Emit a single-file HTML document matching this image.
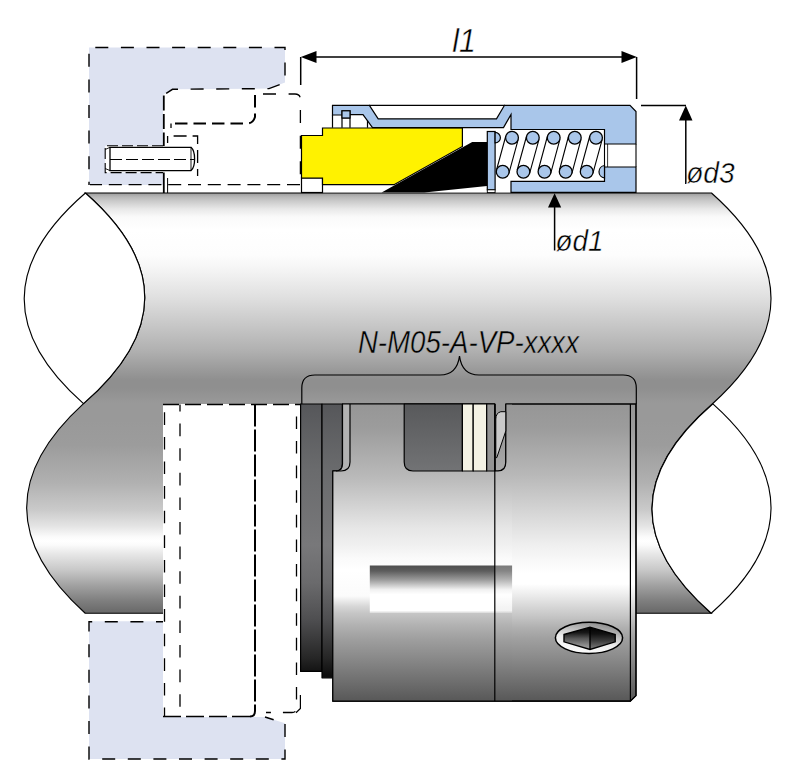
<!DOCTYPE html>
<html lang="en">
<head>
<meta charset="utf-8">
<title>N-M05-A-VP mechanical seal</title>
<style>
html,body{margin:0;padding:0;background:#fff;}
body{width:800px;height:784px;overflow:hidden;}
svg{display:block;}
text{font-family:"Liberation Sans",Arial,Helvetica,sans-serif;font-style:italic;fill:#000;}
</style>
</head>
<body>
<svg width="800" height="784" viewBox="0 0 800 784">
<defs>
  <linearGradient id="gShaft" gradientUnits="userSpaceOnUse" x1="0" y1="193" x2="0" y2="613">
    <stop offset="0.0000" stop-color="#9a9a9a"/>
    <stop offset="0.0095" stop-color="#b8b8b8"/>
    <stop offset="0.0190" stop-color="#cacaca"/>
    <stop offset="0.0381" stop-color="#e8e8e8"/>
    <stop offset="0.0571" stop-color="#fafafa"/>
    <stop offset="0.0881" stop-color="#ffffff"/>
    <stop offset="0.1476" stop-color="#fdfdfd"/>
    <stop offset="0.1833" stop-color="#f4f4f4"/>
    <stop offset="0.2476" stop-color="#e0e0e0"/>
    <stop offset="0.3119" stop-color="#c8c8c8"/>
    <stop offset="0.3762" stop-color="#b0b0b0"/>
    <stop offset="0.4214" stop-color="#9a9a9a"/>
    <stop offset="0.4452" stop-color="#8f8f8f"/>
    <stop offset="0.4643" stop-color="#8f8f8f"/>
    <stop offset="0.5000" stop-color="#999999"/>
    <stop offset="0.5405" stop-color="#999999"/>
    <stop offset="0.6000" stop-color="#9c9c9c"/>
    <stop offset="0.6881" stop-color="#b0b0b0"/>
    <stop offset="0.7548" stop-color="#cacaca"/>
    <stop offset="0.7929" stop-color="#e4e4e4"/>
    <stop offset="0.8190" stop-color="#fbfbfb"/>
    <stop offset="0.8286" stop-color="#ffffff"/>
    <stop offset="0.8381" stop-color="#fbfbfb"/>
    <stop offset="0.8583" stop-color="#e8e8e8"/>
    <stop offset="0.8976" stop-color="#c8c8c8"/>
    <stop offset="0.9357" stop-color="#a0a0a0"/>
    <stop offset="0.9690" stop-color="#808080"/>
    <stop offset="1.0000" stop-color="#686868"/>
  </linearGradient>
  <linearGradient id="gBody" gradientUnits="userSpaceOnUse" x1="0" y1="404" x2="0" y2="701">
    <stop offset="0.0000" stop-color="#969696"/>
    <stop offset="0.0808" stop-color="#9c9c9c"/>
    <stop offset="0.2391" stop-color="#b8b8b8"/>
    <stop offset="0.4175" stop-color="#e2e2e2"/>
    <stop offset="0.4747" stop-color="#efefef"/>
    <stop offset="0.5253" stop-color="#f8f8f8"/>
    <stop offset="0.5690" stop-color="#ffffff"/>
    <stop offset="0.6061" stop-color="#ffffff"/>
    <stop offset="0.6431" stop-color="#ececec"/>
    <stop offset="0.6801" stop-color="#d8d8d8"/>
    <stop offset="0.7172" stop-color="#c4c4c4"/>
    <stop offset="0.7529" stop-color="#b0b0b0"/>
    <stop offset="0.7896" stop-color="#a0a0a0"/>
    <stop offset="0.8620" stop-color="#888888"/>
    <stop offset="0.9360" stop-color="#6e6e6e"/>
    <stop offset="1.0000" stop-color="#585858"/>
  </linearGradient>
  <linearGradient id="gBodyL" gradientUnits="userSpaceOnUse" x1="0" y1="404" x2="0" y2="701">
    <stop offset="0.0000" stop-color="#969696"/>
    <stop offset="0.0808" stop-color="#9c9c9c"/>
    <stop offset="0.2492" stop-color="#bababa"/>
    <stop offset="0.4175" stop-color="#e6e6e6"/>
    <stop offset="0.4747" stop-color="#f0f0f0"/>
    <stop offset="0.5185" stop-color="#fafafa"/>
    <stop offset="0.5589" stop-color="#ffffff"/>
    <stop offset="0.6465" stop-color="#fbfbfb"/>
    <stop offset="0.6801" stop-color="#d8d8d8"/>
    <stop offset="0.7037" stop-color="#c6c6c6"/>
    <stop offset="0.7441" stop-color="#b2b2b2"/>
    <stop offset="0.7879" stop-color="#a0a0a0"/>
    <stop offset="0.8620" stop-color="#878787"/>
    <stop offset="0.9360" stop-color="#6e6e6e"/>
    <stop offset="1.0000" stop-color="#585858"/>
  </linearGradient>
  <linearGradient id="gHex" x1="0" y1="0" x2="0" y2="1">
    <stop offset="0" stop-color="#000"/>
    <stop offset="0.25" stop-color="#181818"/>
    <stop offset="0.5" stop-color="#555"/>
    <stop offset="0.8" stop-color="#8c8c8c"/>
    <stop offset="1" stop-color="#a4a4a4"/>
  </linearGradient>
  <linearGradient id="gHexR" x1="0" y1="0" x2="0" y2="1">
    <stop offset="0" stop-color="#000"/>
    <stop offset="0.3" stop-color="#111"/>
    <stop offset="0.6" stop-color="#3a3a3a"/>
    <stop offset="1" stop-color="#808080"/>
  </linearGradient>
  <linearGradient id="gScrewRing" x1="0.2" y1="1" x2="0.6" y2="0">
    <stop offset="0" stop-color="#ffffff"/>
    <stop offset="0.45" stop-color="#ececec"/>
    <stop offset="1" stop-color="#8c8c8c"/>
  </linearGradient>
  <clipPath id="cBody"><path d="M342.5,404 L494.8,404 L494.8,471 L498,471 Q505.8,471 505.8,462 L505.8,404 L636,404 L636,695.6 L630.4,701.2 L332.8,701.2 L332.8,471 L336,471 Q342.5,471 342.5,464 Z"/></clipPath>
  <linearGradient id="gShaftT1" gradientUnits="userSpaceOnUse" x1="0" y1="-57.6" x2="0" y2="362.4">
    <stop offset="0.0000" stop-color="#9a9a9a"/>
    <stop offset="0.0095" stop-color="#b8b8b8"/>
    <stop offset="0.0190" stop-color="#cacaca"/>
    <stop offset="0.0381" stop-color="#e8e8e8"/>
    <stop offset="0.0571" stop-color="#fafafa"/>
    <stop offset="0.0881" stop-color="#ffffff"/>
    <stop offset="0.1476" stop-color="#fdfdfd"/>
    <stop offset="0.1833" stop-color="#f4f4f4"/>
    <stop offset="0.2476" stop-color="#e0e0e0"/>
    <stop offset="0.3119" stop-color="#c8c8c8"/>
    <stop offset="0.3762" stop-color="#b0b0b0"/>
    <stop offset="0.4214" stop-color="#9a9a9a"/>
    <stop offset="0.4452" stop-color="#8f8f8f"/>
    <stop offset="0.4643" stop-color="#8f8f8f"/>
    <stop offset="0.5000" stop-color="#999999"/>
    <stop offset="0.5405" stop-color="#999999"/>
    <stop offset="0.6000" stop-color="#9c9c9c"/>
    <stop offset="0.6881" stop-color="#b0b0b0"/>
    <stop offset="0.7548" stop-color="#cacaca"/>
    <stop offset="0.7929" stop-color="#e4e4e4"/>
    <stop offset="0.8190" stop-color="#fbfbfb"/>
    <stop offset="0.8286" stop-color="#ffffff"/>
    <stop offset="0.8381" stop-color="#fbfbfb"/>
    <stop offset="0.8583" stop-color="#e8e8e8"/>
    <stop offset="0.8976" stop-color="#c8c8c8"/>
    <stop offset="0.9357" stop-color="#a0a0a0"/>
    <stop offset="0.9690" stop-color="#808080"/>
    <stop offset="1.0000" stop-color="#686868"/>
  </linearGradient>
  <linearGradient id="gShaftT2" gradientUnits="userSpaceOnUse" x1="0" y1="-159.6" x2="0" y2="260.4">
    <stop offset="0.0000" stop-color="#9a9a9a"/>
    <stop offset="0.0095" stop-color="#b8b8b8"/>
    <stop offset="0.0190" stop-color="#cacaca"/>
    <stop offset="0.0381" stop-color="#e8e8e8"/>
    <stop offset="0.0571" stop-color="#fafafa"/>
    <stop offset="0.0881" stop-color="#ffffff"/>
    <stop offset="0.1476" stop-color="#fdfdfd"/>
    <stop offset="0.1833" stop-color="#f4f4f4"/>
    <stop offset="0.2476" stop-color="#e0e0e0"/>
    <stop offset="0.3119" stop-color="#c8c8c8"/>
    <stop offset="0.3762" stop-color="#b0b0b0"/>
    <stop offset="0.4214" stop-color="#9a9a9a"/>
    <stop offset="0.4452" stop-color="#8f8f8f"/>
    <stop offset="0.4643" stop-color="#8f8f8f"/>
    <stop offset="0.5000" stop-color="#999999"/>
    <stop offset="0.5405" stop-color="#999999"/>
    <stop offset="0.6000" stop-color="#9c9c9c"/>
    <stop offset="0.6881" stop-color="#b0b0b0"/>
    <stop offset="0.7548" stop-color="#cacaca"/>
    <stop offset="0.7929" stop-color="#e4e4e4"/>
    <stop offset="0.8190" stop-color="#fbfbfb"/>
    <stop offset="0.8286" stop-color="#ffffff"/>
    <stop offset="0.8381" stop-color="#fbfbfb"/>
    <stop offset="0.8583" stop-color="#e8e8e8"/>
    <stop offset="0.8976" stop-color="#c8c8c8"/>
    <stop offset="0.9357" stop-color="#a0a0a0"/>
    <stop offset="0.9690" stop-color="#808080"/>
    <stop offset="1.0000" stop-color="#686868"/>
  </linearGradient>
  <linearGradient id="gRing" gradientUnits="userSpaceOnUse" x1="0" y1="404" x2="0" y2="675">
    <stop offset="0.0000" stop-color="#56575a"/>
    <stop offset="0.2435" stop-color="#6a6b6d"/>
    <stop offset="0.5203" stop-color="#78787a"/>
    <stop offset="0.6605" stop-color="#6a6a6c"/>
    <stop offset="0.7970" stop-color="#4e4e50"/>
    <stop offset="0.9373" stop-color="#262626"/>
    <stop offset="1.0000" stop-color="#0e0e0e"/>
  </linearGradient>
  <linearGradient id="gNotch" gradientUnits="userSpaceOnUse" x1="0" y1="404" x2="0" y2="471">
    <stop offset="0" stop-color="#58595b"/>
    <stop offset="1" stop-color="#727375"/>
  </linearGradient>
  <linearGradient id="gGroove" gradientUnits="userSpaceOnUse" x1="0" y1="565" x2="0" y2="614">
    <stop offset="0" stop-color="#4e4e4e"/>
    <stop offset="0.12" stop-color="#5c5c5c"/>
    <stop offset="0.3" stop-color="#9a9a9a"/>
    <stop offset="0.5" stop-color="#f0f0f0"/>
    <stop offset="0.6" stop-color="#ffffff"/>
    <stop offset="0.93" stop-color="#ffffff"/>
    <stop offset="1" stop-color="#c8c8c8"/>
  </linearGradient>
  <linearGradient id="gGrooveFade" x1="0" y1="0" x2="1" y2="0">
    <stop offset="0" stop-color="#fff" stop-opacity="0"/>
    <stop offset="1" stop-color="#fff" stop-opacity="1"/>
  </linearGradient>
</defs>

<!-- SHAFT -->
<g id="shaft">
  <path d="M85.4,193 L711.5,193 Q830,298 712.5,403.8 Q592,508.5 711.2,613.2 L85.2,613.2 Q-31,508 83.5,403.6 Q205,298 85.4,193 Z" fill="url(#gShaft)" stroke="#000" stroke-width="1.15"/>
  <!-- left lens -->
  <path d="M85.4,193 Q-36,298 83.5,403.6 Q205,298 85.4,193 Z" fill="#fff" stroke="#000" stroke-width="1.15" stroke-linejoin="round"/>
  <!-- right lens -->
  <path d="M712.9,403.9 Q830,508.5 711.2,613.2 Q592,508.5 712.9,403.9 Z" fill="#fff" stroke="#000" stroke-width="1.15" stroke-linejoin="round"/>
</g>

<!-- HOUSING (dashed, upper) -->
<g id="housing-top" fill="none" stroke="#000">
  <path d="M89,47.5 L285,47.5 L285,82.5 L269,88.6 L172.5,89.3 L163,95 L163,185 L89,185 Z" fill="#dde2f1" stroke="none"/>
  <path d="M89,185 L89,47.5 L285,47.5 L285,82.5 L269,88.6 L172.5,89.3 L163.5,95" stroke-width="1.4" stroke-dasharray="13 12.6" stroke-dashoffset="9.8"/>
  <path d="M163.8,95.5 L163.8,146" stroke-width="1.8" stroke-dasharray="15 3.5"/>
  <path d="M90,184.6 L300.5,184.6" stroke-width="1.3" stroke-dasharray="13 6.8" stroke-dashoffset="1"/>
  <!-- right rounded box -->
  <path d="M263,94 L295,94 Q300.4,94 300.4,99.5 L300.4,185" stroke-width="1.3" stroke-dasharray="13 12.6"/>
  <!-- o-ring groove thick dashed -->
  <path d="M255,95 L255,117 Q253,123.5 247,123.5 L171,123.5" stroke-width="2" stroke-dasharray="12.5 6"/>
  <path d="M171,123.5 L171,128" stroke-width="1.3"/>
  <!-- inner small box -->
  <path d="M167.6,143 L167.6,136 L197.6,136 L197.6,176" stroke-width="1.3" stroke-dasharray="13 6" stroke-dashoffset="6"/>
  <!-- solid double line -->
  <path d="M163.8,172.5 L163.8,193" stroke-width="1.8"/><path d="M167.6,178 L167.6,193" stroke-width="1"/>
  <!-- pin -->
  <path d="M105.2,145.8 L163,145.8 L163,172.6 L105.2,172.6 Z" fill="#fff" stroke="none"/>
  <path d="M163,145.8 L105.2,145.8 L105.2,172.6 L163,172.6" stroke-width="1.1" stroke-dasharray="11 4"/>
  <path d="M110,147.3 L191,147.3 Q194.6,150.5 194.6,158.9 Q194.6,167.5 191,170.6 L110,170.6 Z" fill="#fff" stroke-width="1.3"/>
  <path d="M105.2,149.5 L110,147.3 M105.2,168.5 L110,170.6 M191,147.3 L191,170.6" stroke-width="0.9"/>
  <path d="M110,159.5 L194,159.5" stroke-width="1.1" stroke-dasharray="12 4"/>
</g>
<!-- HOUSING (dashed, lower) -->
<g id="housing-bottom" fill="none" stroke="#000">
  <rect x="163" y="404" width="138" height="309" fill="#fff" stroke="none"/>
  <path d="M89,621.3 L163,621.3 L163,717 L265,717 L285,723.3 L285,759 L89,759 Z" fill="#dde2f1" stroke="none"/>
  <path d="M163,621.8 L89,621.8 L89,759 L285,759 L285,723.3 L265,717" stroke-width="1.4" stroke-dasharray="13 12.6" stroke-dashoffset="6"/>
  <path d="M163,404.5 L301,404.5" stroke-width="1.3" stroke-dasharray="16 6"/>
  <path d="M164.5,404.5 L164.5,716.5" stroke-width="1.3" stroke-dasharray="12.6 12" stroke-dashoffset="16.8"/>
  <path d="M163,716.5 L252,716.5" stroke-width="1.6" stroke-dasharray="18 5"/>
  <path d="M180,404.5 L180,716.5" stroke-width="1.3" stroke-dasharray="12.6 12" stroke-dashoffset="5.5"/>
  <path d="M255,404.5 L255,711 Q255,716.5 250,716.5" stroke-width="2" stroke-dasharray="22 3"/>
  <path d="M296.5,404.5 L296.5,708 Q296.5,712.5 292,712.5 L266,712.5" stroke-width="1.3" stroke-dasharray="12.6 12" stroke-dashoffset="12.7"/>
  <path d="M300.4,695 L300.4,708.5 L296,712.8" stroke-width="1.2"/>
</g>

<!-- SEAL TOP (cross-section) -->
<g id="seal-top" stroke="#000" stroke-width="1.2" stroke-linejoin="miter">
  <!-- white interior of housing region -->
  <path d="M332.5,105.3 L630,105.3 L636,111.5 L636,192.3 L301.5,192.3 L301.5,135.5 L322.5,135.5 L322.5,128 L332.5,128 Z" fill="#fff" stroke="none"/>
  <!-- small box under stationary ring -->
  <rect x="301.5" y="178" width="21" height="14.5" fill="#fff"/>
  <!-- yellow stationary/face -->
  <path d="M301.5,135.5 L322.5,135.5 L322.5,128 L462.4,128 L462.4,146.4 L394,184.7 L322.5,184.7 L322.5,178 L301.5,178 Z" fill="#fff200"/>
  <!-- black wedge -->
  <path d="M381.6,192.6 L472.2,142 L487,142 L487,186 L424.4,192.6 Z" fill="#000" stroke="none"/>
  <!-- outer thin shell line -->
  <path d="M369,105.3 L505,105.3" fill="none"/>
  <!-- blue sheet (bellows carrier) -->
  <path d="M332.5,105.3 L369.4,105.3 L378.2,118.8 L496.5,118.8 L504.5,105.3 L630,105.3 L636,111.5 L636,144 L604.5,144 L604.5,129.5 L511,129.5 L511,114.5 L503.5,127.6 L372.5,127.6 L363,114.6 L350,114.6 L350,110.8 L342,110.8 L342,115 L332.5,115 Z" fill="#a9c6ea"/>
  <path d="M332.5,115 L332.5,127.8 M342,115 L342,127.8 M350,114.6 L350,127.8 M342,118 L350,118 M367.5,120.5 L367.5,127.8" fill="none"/>
  <rect x="342" y="110.8" width="8" height="7.2" fill="#a9c6ea"/>
  <!-- housing lower blue -->
  <path d="M604.5,167 L636,167 L636,192.3 L511,192.3 L511,181.3 L604.5,181.3 Z" fill="#a9c6ea"/>
  <path d="M604.5,144 L604.5,167 M636,144 L636,167" fill="none" stroke-width="1.1"/><path d="M607.6,144 L607.6,167" fill="none" stroke-width="0.8"/>
  <!-- plate -->
  <rect x="487.3" y="131.5" width="7.8" height="58.3" fill="#a9c6ea"/>
  <rect x="487.3" y="189.8" width="7.8" height="2.8" fill="#fff" stroke-width="0.9"/>
  <!-- spring -->
  <path d="M495.1,132.4 A5.3,5.3 0 0 1 495.1,143 Z" fill="#a9c6ea"/>
  <path d="M604.5,165.5 A6.3,6.3 0 0 0 604.5,178 Z" fill="#a9c6ea"/>
  <path d="M505.8,136.0 L496.5,170.0 M518.2,139.4 L508.9,173.4 M526.6,136.0 L517.2,170.0 M539.0,139.4 L529.6,173.4 M547.5,136.0 L538.3,170.0 M559.9,139.4 L550.7,173.4 M568.6,136.0 L559.5,170.0 M581.0,139.4 L571.9,173.4 M589.8,136.0 L580.5,170.0 M602.2,139.4 L592.9,173.4 " fill="none" stroke-width="1.1"/>
  <g fill="#a9c6ea" stroke-width="1.3"><circle cx="512" cy="137.7" r="6.4"/><circle cx="532.8" cy="137.7" r="6.4"/><circle cx="553.7" cy="137.7" r="6.4"/><circle cx="574.8" cy="137.7" r="6.4"/><circle cx="596" cy="137.7" r="6.4"/><circle cx="502.7" cy="171.7" r="6.4"/><circle cx="523.4" cy="171.7" r="6.4"/><circle cx="544.5" cy="171.7" r="6.4"/><circle cx="565.7" cy="171.7" r="6.4"/><circle cx="586.7" cy="171.7" r="6.4"/></g>
</g>

<!-- SEAL BOTTOM (external view) -->
<g id="seal-bottom" stroke="#000" stroke-width="1.2" stroke-linejoin="round">
  <!-- seat rings -->
  <path d="M300.6,404 L322,404 L322,671.4 L300.6,671.4 Z" fill="url(#gRing)"/>
  <path d="M322,404 L342.5,404 L342.5,464 Q342.5,471 336,471 L332.8,471 L332.8,677.8 L322,677.8 Z" fill="url(#gRing)"/>
  <!-- body -->
  <path d="M342.5,404 L494.8,404 L494.8,471 L498,471 Q505.8,471 505.8,462 L505.8,404 L636,404 L636,695.6 L630.4,701.2 L332.8,701.2 L332.8,471 L336,471 Q342.5,471 342.5,464 Z" fill="url(#gBody)"/>
  <rect x="332" y="404" width="180" height="298" fill="url(#gBodyL)" stroke="none" clip-path="url(#cBody)"/>
  <path d="M342.5,404 L350,404 L350,462 Q350,471 341,471 L336,471 Q342.5,471 342.5,464 Z" fill="#b2b2b2" stroke="none"/>
  <path d="M342.5,404 L494.8,404 L494.8,471 L498,471 Q505.8,471 505.8,462 L505.8,404 L636,404 L636,695.6 L630.4,701.2 L332.8,701.2 L332.8,471 L336,471 Q342.5,471 342.5,464 Z" fill="none"/>
  <path d="M350,404 L350,462 Q350,471 341,471 L336,471" fill="none"/>
  <!-- groove / flat -->
  <rect x="369.8" y="565.5" width="125.3" height="47.5" fill="url(#gGroove)" stroke="none"/>
  <g opacity="0.75"><rect x="495.1" y="565.5" width="17" height="47.5" fill="url(#gGroove)" stroke="none"/></g>
  <!-- window -->
  <path d="M404.2,404 L404.2,462 Q404.2,471 413,471 L462.4,471 L462.4,404 Z" fill="url(#gNotch)"/>
  <rect x="462.4" y="404" width="10.8" height="67" fill="#f4f2e4"/>
  <rect x="473.2" y="404" width="13.5" height="67" fill="#f4f2e4"/>
  <rect x="486.7" y="404" width="8.1" height="67" fill="#949494"/>
  <!-- drive tab -->
  <path d="M505.8,411.7 L500.8,411.7 Q495.8,413 495.8,419 L495.8,457.6 L496.8,457.6 L505.8,431 Z" fill="#c9c9c9" stroke-width="1"/>
  <path d="M494.8,404 L494.8,701.2" fill="none"/>
  <path d="M630.4,404 L630.4,701.2" fill="none"/>
  <!-- set screw -->
  <ellipse cx="589" cy="637.8" rx="33.6" ry="15.6" fill="url(#gScrewRing)" stroke-width="1.5"/>
  <path d="M564,634.5 L590,627.2 L590,649.5 L564,641.8 Z" fill="url(#gHex)" stroke="none"/>
  <path d="M590,627.2 L615.2,634.5 L615.2,641.8 L590,649.5 Z" fill="url(#gHexR)" stroke="none"/>
  <path d="M564,634.5 L590,627.2 L615.2,634.5 L615.2,641.8 L590,649.5 L564,641.8 Z M590,627.2 L590,649.5" fill="none" stroke-width="1.4" stroke-linejoin="miter"/>
</g>

<!-- DIMENSIONS -->
<g id="dims" stroke="#000" stroke-width="1.5" fill="none">
  <path d="M300.7,57 L300.7,85"/>
  <path d="M636.6,57 L636.6,99"/>
  <path d="M310,57 L628,57"/>
  <path d="M300.8,57 L316.5,51 L316.5,63 Z" fill="#000" stroke="none"/>
  <path d="M636.8,57 L621.5,51 L621.5,63 Z" fill="#000" stroke="none"/>
  <path d="M641,105.5 L686,105.5"/>
  <path d="M685.8,112 L685.8,184"/>
  <path d="M685.8,105.5 L679,120.5 L692.5,120.5 Z" fill="#000" stroke="none"/>
  <path d="M554.6,200 L554.6,250.5"/>
  <path d="M554.6,193.3 L548,207.5 L561.2,207.5 Z" fill="#000" stroke="none"/>
  <!-- brace -->
  <path d="M301.8,404 L301.8,388 Q301.8,375 315,375 L440,375 Q457,375 459.5,356 Q462,375 479,375 L623,375 Q636.3,375 636.3,388 L636.3,404" stroke-width="1.2"/>
</g>
<g id="labels" stroke-width="0.45" stroke-linejoin="round">
  <text transform="translate(452.3,51.6) scale(0.9,1)" font-size="33.5" stroke="#fff">l1</text>
  <text transform="translate(686.2,182.6) scale(0.96,1)" font-size="29.3" stroke="#fff">ød3</text>
  <text transform="translate(555.6,250.6) scale(0.95,1)" font-size="29.3" stroke="url(#gShaftT1)">ød1</text>
  <text transform="translate(357.9,352.6) scale(0.864,1)" font-size="32" stroke="url(#gShaftT2)">N-M05-A-VP-xxxx</text>
</g>

</svg>
</body>
</html>
